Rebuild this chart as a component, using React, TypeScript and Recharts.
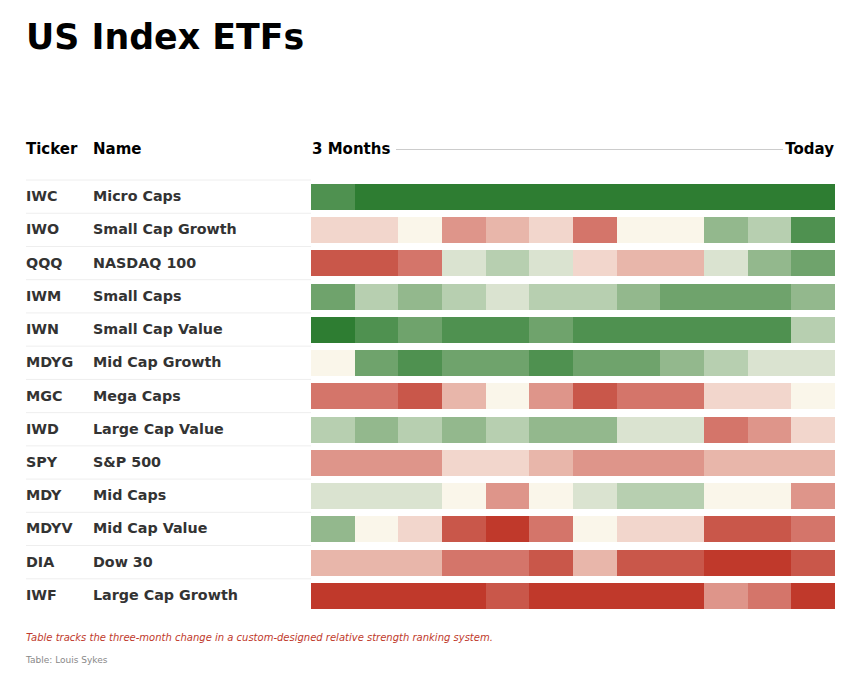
import React from 'react';
import { BarChart, Bar, XAxis, YAxis, Cell } from 'recharts';

// weekly relative-strength rank (1 = strongest), oldest -> today
const tickers = ['IWC', 'IWO', 'QQQ', 'IWM', 'IWN', 'MDYG', 'MGC', 'IWD', 'SPY', 'MDY', 'MDYV', 'DIA', 'IWF'];
const names = [
  'Micro Caps', 'Small Cap Growth', 'NASDAQ 100', 'Small Caps', 'Small Cap Value', 'Mid Cap Growth',
  'Mega Caps', 'Large Cap Value', 'S&P 500', 'Mid Caps', 'Mid Cap Value', 'Dow 30', 'Large Cap Growth'
];
const periods = ['w1', 'w2', 'w3', 'w4', 'w5', 'w6', 'w7', 'w8', 'w9', 'w10', 'w11', 'w12'];

const iwc = [2, 1, 1, 1, 1, 1, 1, 1, 1, 1, 1, 1];
const iwo = [8, 8, 7, 10, 9, 8, 11, 7, 7, 4, 5, 2];
const qqq = [12, 12, 11, 6, 5, 6, 8, 9, 9, 6, 4, 3];
const iwm = [3, 5, 4, 5, 6, 5, 5, 4, 3, 3, 3, 4];
const iwn = [1, 2, 3, 2, 2, 3, 2, 2, 2, 2, 2, 5];
const mdyg = [7, 3, 2, 3, 3, 2, 3, 3, 4, 5, 6, 6];
const mgc = [11, 11, 12, 9, 7, 10, 12, 11, 11, 8, 8, 7];
const iwd = [5, 4, 5, 4, 5, 4, 4, 6, 6, 11, 10, 8];
const spy = [10, 10, 10, 8, 8, 9, 10, 10, 10, 9, 9, 9];
const mdy = [6, 6, 6, 7, 10, 7, 6, 5, 5, 7, 7, 10];
const mdyv = [4, 7, 8, 12, 13, 11, 7, 8, 8, 12, 12, 11];
const dia = [9, 9, 9, 11, 11, 12, 9, 12, 12, 13, 13, 12];
const iwf = [13, 13, 13, 13, 12, 13, 13, 13, 13, 10, 11, 13];

const ranks = [iwc, iwo, qqq, iwm, iwn, mdyg, mgc, iwd, spy, mdy, mdyv, dia, iwf];

const palette = [
  '#2e7d32', '#4f9150', '#6fa36c', '#93b88d', '#b7cfb0', '#dae3d0', '#faf6ea',
  '#f2d6cc', '#e8b6aa', '#de958a', '#d4756a', '#c9574a', '#c0392b'
];

const rows = tickers.map(t => {
  const row: any = { ticker: t };
  periods.forEach(p => { row[p] = 1; });
  return row;
});

const font = '"DejaVu Sans", sans-serif';

const RowTick = (props: any) => {
  const { y, payload } = props;
  const i = tickers.indexOf(payload.value);
  return (
    <g>
      <line x1={26} x2={311} y1={y - 16.6} y2={y - 16.6} stroke="#eeeeee" strokeWidth={1} />
      <text x={26} y={y + 4.5} fontFamily={font} fontWeight="bold" fontSize={14.3} fill="#333">
        {payload.value}
      </text>
      <text x={93} y={y + 4.5} fontFamily={font} fontWeight="bold" fontSize={14.3} fill="#333">
        {names[i]}
      </text>
    </g>
  );
};

export default function App() {
  return (
    <div style={{ position: 'absolute', left: 0, top: 0, width: 860, height: 674, background: '#fff', fontFamily: font }}>
      <div style={{ position: 'absolute', left: 26, top: 15, fontSize: 34.8, fontWeight: 'bold', color: '#000', lineHeight: '44px' }}>
        US Index ETFs
      </div>
      <div style={{ position: 'absolute', left: 26, top: 139, fontSize: 15, fontWeight: 'bold', lineHeight: '20px' }}>Ticker</div>
      <div style={{ position: 'absolute', left: 93, top: 139, fontSize: 15, fontWeight: 'bold', lineHeight: '20px' }}>Name</div>
      <div style={{ position: 'absolute', left: 312, top: 139, fontSize: 15, fontWeight: 'bold', lineHeight: '20px' }}>3 Months</div>
      <div style={{ position: 'absolute', left: 396, top: 149, width: 387, height: 1, background: '#cccccc' }} />
      <div style={{ position: 'absolute', right: 26, top: 139, fontSize: 15, fontWeight: 'bold', lineHeight: '20px' }}>Today</div>

      <div style={{ position: 'absolute', left: 0, top: 0 }}>
        <BarChart
          width={860}
          height={674}
          data={rows}
          layout="vertical"
          margin={{ top: 180, right: 25, bottom: 62, left: 26 }}
          barSize={26}
        >
          <XAxis type="number" domain={[0, 12]} hide />
          <YAxis
            type="category"
            dataKey="ticker"
            width={285}
            axisLine={false}
            tickLine={false}
            tick={<RowTick />}
            interval={0}
          />
          {periods.map((p, j) => (
            <Bar key={p} dataKey={p} stackId="a" isAnimationActive={false}>
              {rows.map((r, i) => (
                <Cell key={r.ticker} fill={palette[ranks[i][j] - 1]} shapeRendering="crispEdges" />
              ))}
            </Bar>
          ))}
        </BarChart>
      </div>

      <div style={{ position: 'absolute', left: 26, top: 631, fontSize: 10, fontStyle: 'italic', color: '#c0392b', lineHeight: '14px' }}>
        Table tracks the three-month change in a custom-designed relative strength ranking system.
      </div>
      <div style={{ position: 'absolute', left: 26, top: 654, fontSize: 9, color: '#888', lineHeight: '12px' }}>
        Table: Louis Sykes
      </div>
    </div>
  );
}
